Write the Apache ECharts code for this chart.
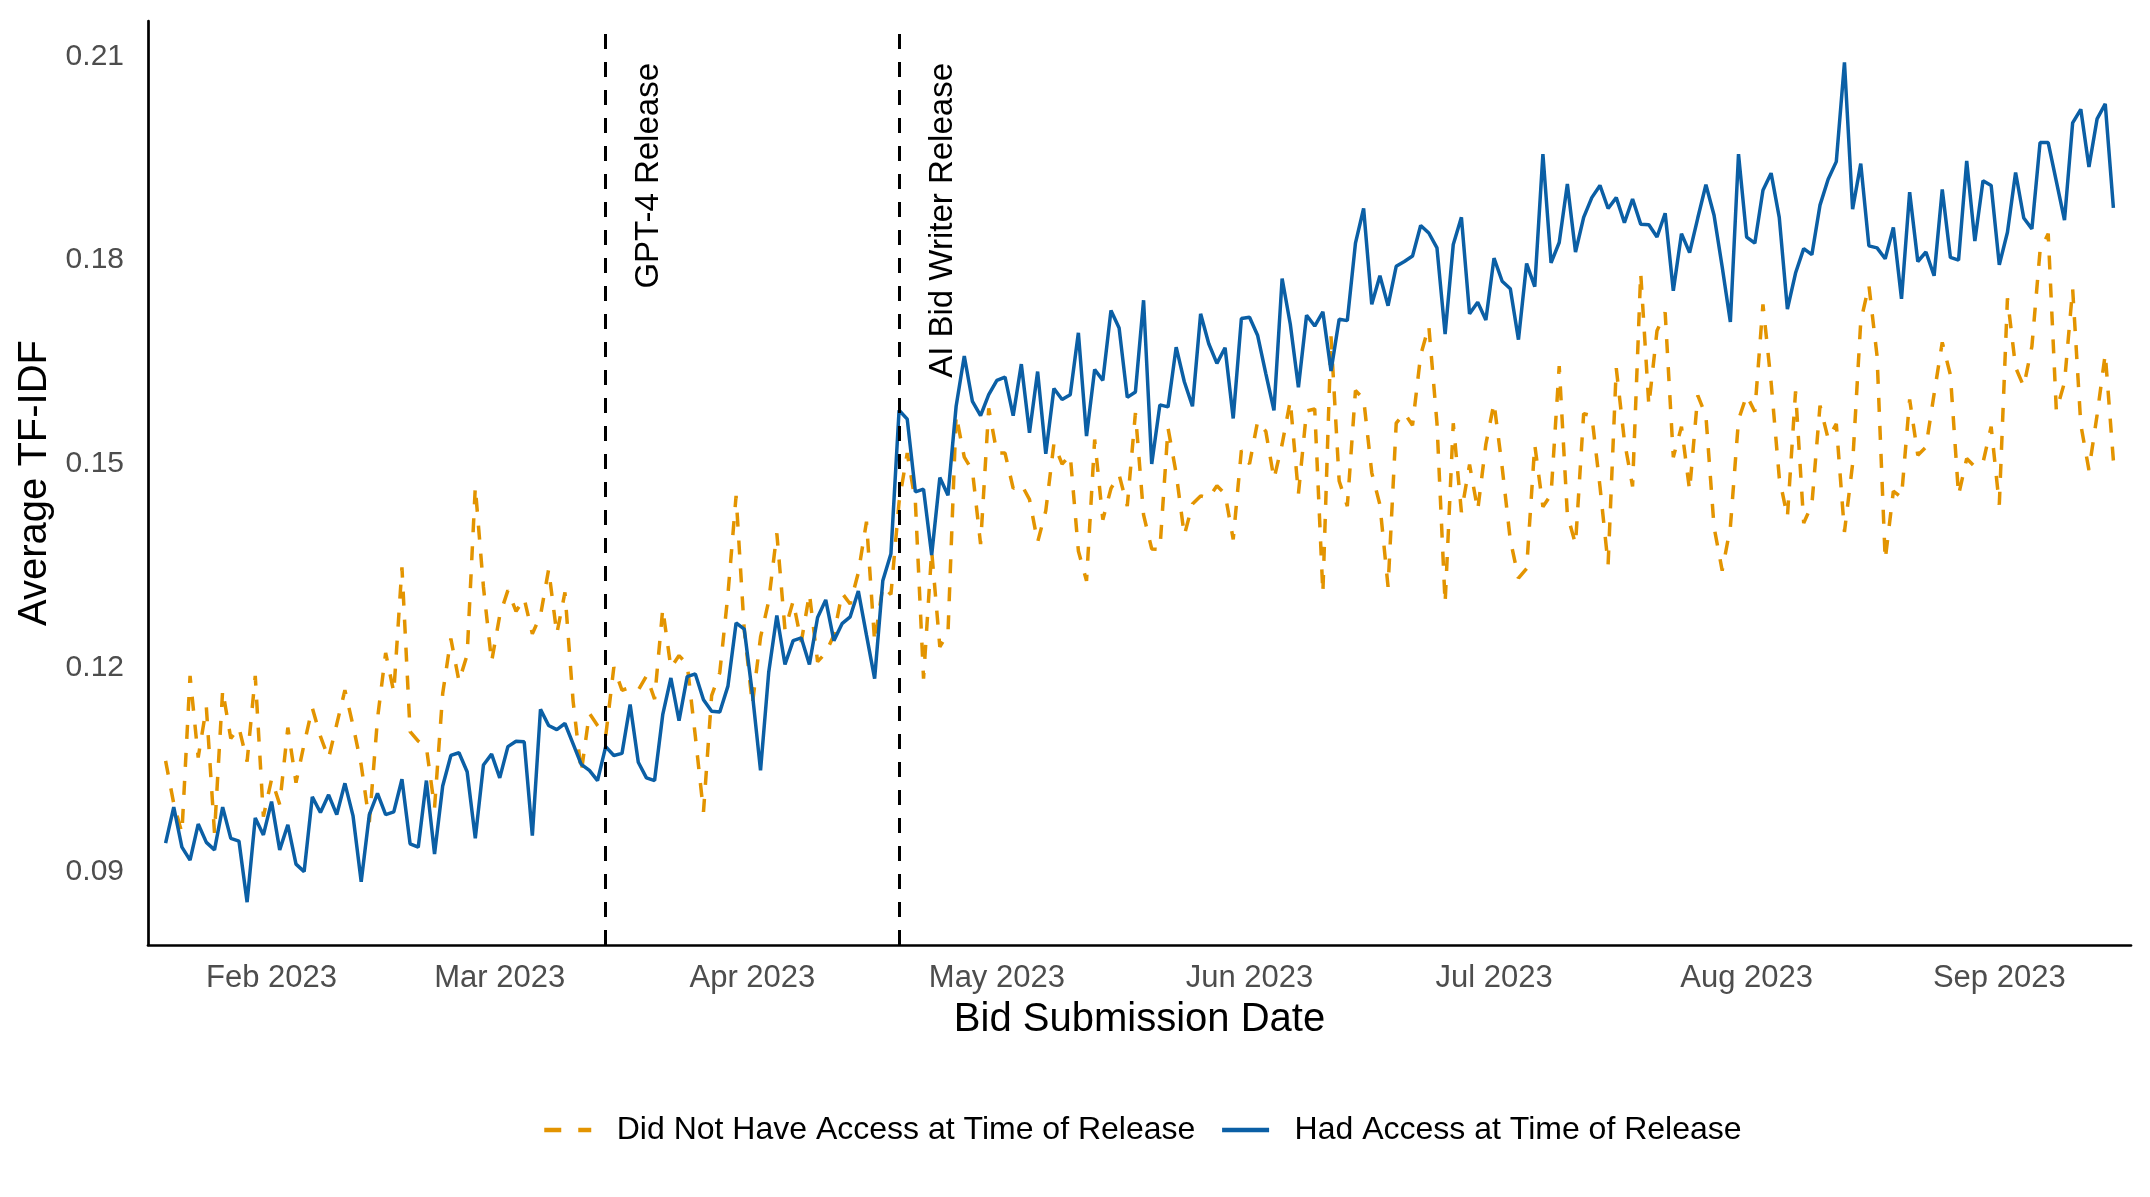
<!DOCTYPE html>
<html>
<head>
<meta charset="utf-8">
<script src="https://cdn.jsdelivr.net/npm/echarts@6/dist/echarts.min.js"></script>
<style>
html,body{margin:0;padding:0;background:#ffffff;}
#chart{width:2150px;height:1197px;}
</style>
</head>
<body>
<div id="chart"></div>
<script>
// ---- data (daily averages, first day 2023-01-19) ----
const firstDate = [2023, 0, 19];
const seriesNames = ['Did Not Have Access at Time of Release', 'Had Access at Time of Release'];

const noAccess = [
0.1063,0.1000,0.0957,0.1188,0.1068,0.1142,0.0957,0.1167,0.1096,0.1112,
0.1062,0.1188,0.0981,0.1036,0.0999,0.1112,0.1031,0.1088,0.1141,0.1099,
0.1067,0.1117,0.1167,0.1115,0.1057,0.0973,0.1125,0.1222,0.1164,0.1348,
0.1106,0.1092,0.1083,0.0994,0.1162,0.1243,0.1180,0.1219,0.1466,0.1319,
0.1209,0.1277,0.1314,0.1283,0.1302,0.1250,0.1277,0.1345,0.1250,0.1311,
0.1151,0.1046,0.1133,0.1115,0.1099,0.1201,0.1167,0.1171,0.1167,0.1188,
0.1154,0.1287,0.1200,0.1218,0.1205,0.1099,0.0988,0.1159,0.1193,0.1308,
0.1453,0.1256,0.1146,0.1245,0.1298,0.1398,0.1256,0.1298,0.1238,0.1309,
0.1209,0.1222,0.1248,0.1310,0.1294,0.1340,0.1415,0.1238,0.1320,0.1308,
0.1444,0.1516,0.1444,0.1184,0.1372,0.1231,0.1251,0.1572,0.1510,0.1490,
0.1382,0.1582,0.1516,0.1516,0.1464,0.1470,0.1448,0.1385,0.1431,0.1530,
0.1500,0.1513,0.1372,0.1328,0.1536,0.1418,0.1464,0.1484,0.1438,0.1575,
0.1425,0.1375,0.1374,0.1553,0.1486,0.1395,0.1441,0.1453,0.1450,0.1468,
0.1456,0.1389,0.1520,0.1500,0.1563,0.1548,0.1478,0.1529,0.1593,0.1456,
0.1578,0.1581,0.1310,0.1688,0.1475,0.1438,0.1608,0.1596,0.1487,0.1440,
0.1319,0.1560,0.1575,0.1557,0.1660,0.1703,0.1560,0.1295,0.1560,0.1429,
0.1499,0.1432,0.1529,0.1590,0.1495,0.1388,0.1332,0.1346,0.1528,0.1437,
0.1455,0.1644,0.1425,0.1382,0.1574,0.1571,0.1467,0.1352,0.1641,0.1534,
0.1467,0.1781,0.1586,0.1696,0.1723,0.1510,0.1555,0.1461,0.1601,0.1571,
0.1407,0.1343,0.1407,0.1565,0.1601,0.1577,0.1735,0.1620,0.1480,0.1422,
0.1607,0.1413,0.1440,0.1586,0.1537,0.1559,0.1400,0.1500,0.1710,0.1763,
0.1659,0.1359,0.1460,0.1451,0.1595,0.1513,0.1525,0.1603,0.1679,0.1631,
0.1454,0.1508,0.1496,0.1502,0.1555,0.1440,0.1744,0.1642,0.1614,0.1673,
0.1814,0.1839,0.1578,0.1620,0.1758,0.1558,0.1491,0.1572,0.1662,0.1505
];

const hadAccess = [
0.0942,0.0995,0.0936,0.0917,0.0970,0.0943,0.0932,0.0995,0.0949,0.0945,
0.0855,0.0979,0.0954,0.1003,0.0932,0.0969,0.0911,0.0900,0.1010,0.0987,
0.1013,0.0984,0.1030,0.0982,0.0885,0.0984,0.1015,0.0984,0.0988,0.1036,
0.0941,0.0936,0.1034,0.0926,0.1026,0.1071,0.1075,0.1047,0.0949,0.1057,
0.1073,0.1038,0.1084,0.1092,0.1091,0.0953,0.1139,0.1115,0.1109,0.1118,
0.1088,0.1058,0.1049,0.1034,0.1084,0.1071,0.1074,0.1146,0.1061,0.1038,
0.1034,0.1131,0.1185,0.1122,0.1187,0.1191,0.1153,0.1136,0.1135,0.1173,
0.1266,0.1257,0.1162,0.1049,0.1193,0.1277,0.1205,0.1240,0.1244,0.1205,
0.1274,0.1300,0.1240,0.1265,0.1275,0.1313,0.1248,0.1184,0.1328,0.1368,
0.1579,0.1566,0.1459,0.1463,0.1366,0.1480,0.1454,0.1585,0.1659,0.1592,
0.1571,0.1602,0.1623,0.1628,0.1571,0.1647,0.1546,0.1636,0.1515,0.1611,
0.1595,0.1602,0.1693,0.1541,0.1639,0.1623,0.1726,0.1700,0.1598,0.1606,
0.1741,0.1500,0.1587,0.1584,0.1672,0.1621,0.1585,0.1721,0.1677,0.1648,
0.1671,0.1567,0.1714,0.1716,0.1689,0.1633,0.1579,0.1773,0.1706,0.1613,
0.1719,0.1703,0.1724,0.1637,0.1713,0.1711,0.1825,0.1876,0.1735,0.1777,
0.1733,0.1791,0.1798,0.1806,0.1851,0.1840,0.1818,0.1691,0.1823,0.1863,
0.1721,0.1738,0.1712,0.1803,0.1769,0.1758,0.1683,0.1795,0.1761,0.1956,
0.1796,0.1826,0.1912,0.1812,0.1863,0.1892,0.1910,0.1876,0.1892,0.1855,
0.1890,0.1853,0.1852,0.1834,0.1869,0.1755,0.1839,0.1811,0.1862,0.1911,
0.1866,0.1790,0.1709,0.1956,0.1834,0.1825,0.1903,0.1928,0.1863,0.1728,
0.1781,0.1817,0.1808,0.1881,0.1919,0.1945,0.2091,0.1875,0.1942,0.1821,
0.1818,0.1802,0.1848,0.1743,0.1900,0.1798,0.1812,0.1777,0.1904,0.1804,
0.1800,0.1946,0.1828,0.1917,0.1910,0.1793,0.1841,0.1929,0.1862,0.1846,
0.1973,0.1973,0.1916,0.1859,0.2002,0.2022,0.1937,0.2008,0.2030,0.1877
];

const releaseEvents = ['GPT-4 Release', 'AI Bid Writer Release'];
const releaseDates = [[2023, 2, 14], [2023, 3, 19]];
const monthNames = ['Jan','Feb','Mar','Apr','May','Jun','Jul','Aug','Sep','Oct','Nov','Dec'];
const yTickStep = 0.03;

// ---- build ----
const DAY = 86400000;
const FONT = 'Liberation Sans';
const ORANGE = '#E39400';
const BLUE = '#0B5FA5';
function dayTs(i) { return new Date(firstDate[0], firstDate[1], firstDate[2] + i).getTime(); }
const nDays = hadAccess.length;
const pad = 2.16 * DAY;

const chart = echarts.init(document.getElementById('chart'), null, { renderer: 'canvas' });
chart.setOption({
  animation: false,
  backgroundColor: '#ffffff',
  textStyle: { fontFamily: FONT },
  grid: { left: 148, right: 19, top: 21, bottom: 252, containLabel: false },
  legend: {
    left: 537, top: 1109,
    itemWidth: 47, itemHeight: 20, itemGap: 24.5,
    selectedMode: false,
    formatter: function (n) { return '{t|' + n + '}'; },
    textStyle: { rich: { t: { fontSize: 32, color: '#000000', fontFamily: FONT, padding: [0, 0, 0, 20.5] } } },
    data: [
      { name: seriesNames[0], itemStyle: { opacity: 0 }, lineStyle: { width: 4.5, type: [17, 17] } },
      { name: seriesNames[1], itemStyle: { opacity: 0 }, lineStyle: { width: 4.5 } }
    ]
  },
  xAxis: {
    type: 'time',
    min: dayTs(0) - pad,
    max: dayTs(nDays - 1) + pad,
    minInterval: 28 * DAY,
    maxInterval: 31 * DAY,
    axisLine: { show: true, onZero: false, lineStyle: { color: '#000000', width: 2.7 } },
    axisTick: { show: false },
    splitLine: { show: false },
    axisLabel: {
      fontSize: 31, color: '#4D4D4D', margin: 18, fontFamily: FONT,
      formatter: function (v) {
        const d = new Date(v);
        if (d.getDate() === 1 && d.getHours() === 0 && d.getMinutes() === 0) {
          return monthNames[d.getMonth()] + ' ' + d.getFullYear();
        }
        return '';
      }
    },
    name: 'Bid Submission Date',
    nameLocation: 'middle',
    nameGap: 55,
    nameTextStyle: { fontSize: 40, color: '#000000', fontFamily: FONT }
  },
  yAxis: {
    type: 'value',
    min: 0.0792,
    max: 0.2152,
    axisLine: { show: true, onZero: false, lineStyle: { color: '#000000', width: 2.7 } },
    axisTick: { show: false },
    splitLine: { show: false },
    axisLabel: {
      fontSize: 30, color: '#4D4D4D', margin: 24, fontFamily: FONT,
      formatter: function (v) {
        const r = v / yTickStep;
        return Math.abs(r - Math.round(r)) < 1e-6 ? v.toFixed(2) : '';
      }
    },
    name: 'Average TF-IDF',
    nameLocation: 'middle',
    nameGap: 91,
    nameRotate: 90,
    nameTextStyle: { fontSize: 40, color: '#000000', fontFamily: FONT }
  },
  series: [
    {
      name: seriesNames[0],
      type: 'line',
      data: noAccess.map(function (v, i) { return [dayTs(i), v]; }),
      symbol: 'none',
      z: 2,
      lineStyle: { color: ORANGE, width: 3.5, type: [14, 14] },
      itemStyle: { color: ORANGE },
      emphasis: { disabled: true }
    },
    {
      name: seriesNames[1],
      type: 'line',
      data: hadAccess.map(function (v, i) { return [dayTs(i), v]; }),
      symbol: 'none',
      z: 3,
      lineStyle: { color: BLUE, width: 3.5 },
      itemStyle: { color: BLUE },
      emphasis: { disabled: true },
      markLine: {
        silent: true,
        animation: false,
        symbol: ['none', 'none'],
        lineStyle: { color: '#000000', width: 3, type: [15, 13] },
        label: {
          show: true, position: 'insideEndBottom', formatter: '{b}',
          fontSize: 33, color: '#000000', fontFamily: FONT, distance: [42, 27]
        },
        emphasis: { disabled: true },
        data: releaseDates.map(function (d, i) {
          return { name: releaseEvents[i], xAxis: new Date(d[0], d[1], d[2]).getTime() };
        })
      }
    }
  ]
});
</script>
</body>
</html>
